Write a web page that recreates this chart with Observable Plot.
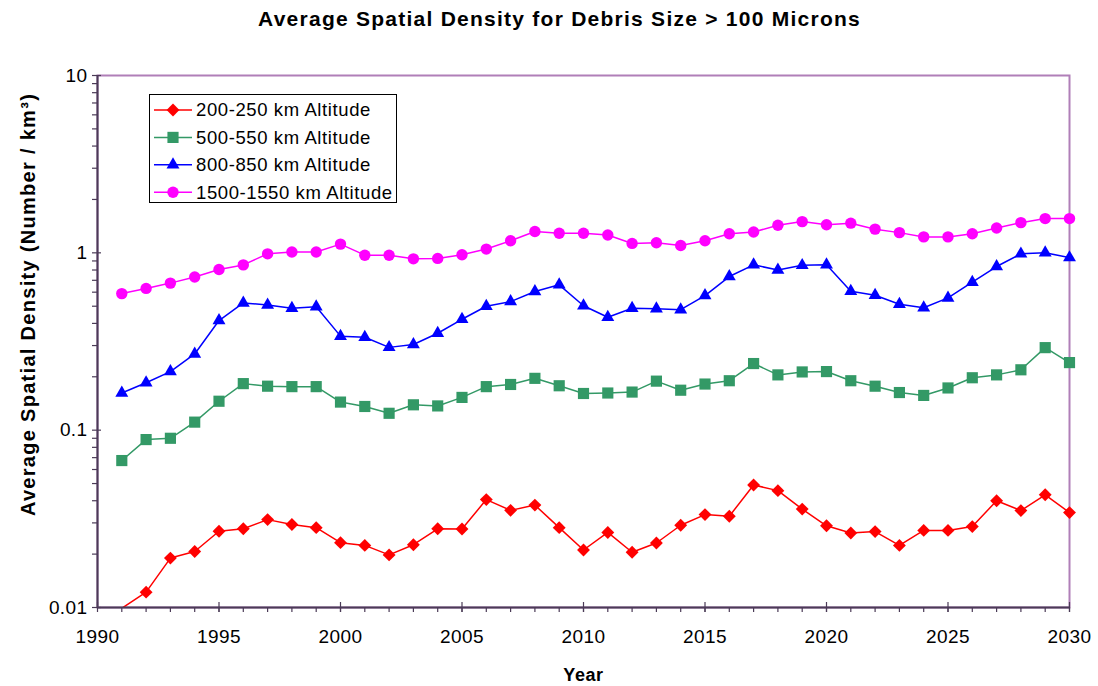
<!DOCTYPE html>
<html>
<head>
<meta charset="utf-8">
<script src="https://cdn.jsdelivr.net/npm/d3@7"></script>
<script src="https://cdn.jsdelivr.net/npm/@observablehq/plot@0.6"></script>
<style>
  body { margin: 0; background: #fff; }
  #wrap { position: relative; width: 1098px; height: 686px; font-family: "Liberation Sans", Arial, sans-serif; }
  #legend { position: absolute; left: 0; top: 0; pointer-events: none; }
</style>
</head>
<body>
<div id="wrap"></div>
<script>
// ---------- data ----------
const chartTitle = "Average Spatial Density for Debris Size > 100 Microns";
const xTitle = "Year";
const yTitle = "Average Spatial Density (Number / km³)";

const years = [1991, 1992, 1993, 1994, 1995, 1996, 1997, 1998, 1999, 2000,
               2001, 2002, 2003, 2004, 2005, 2006, 2007, 2008, 2009, 2010,
               2011, 2012, 2013, 2014, 2015, 2016, 2017, 2018, 2019, 2020,
               2021, 2022, 2023, 2024, 2025, 2026, 2027, 2028, 2029, 2030];

const seriesNames = ["200-250 km Altitude", "500-550 km Altitude", "800-850 km Altitude", "1500-1550 km Altitude"];

const alt200 = [0.0099, 0.0122, 0.0190, 0.0207, 0.0269, 0.0278, 0.0313, 0.0294, 0.0282, 0.0232,
                0.0224, 0.0198, 0.0226, 0.0278, 0.0277, 0.0406, 0.0353, 0.0378, 0.0282, 0.0211,
                0.0265, 0.0205, 0.0231, 0.0291, 0.0334, 0.0327, 0.0491, 0.0456, 0.0359, 0.0289,
                0.0263, 0.0268, 0.0224, 0.0272, 0.0272, 0.0286, 0.0400, 0.0352, 0.0432, 0.0343];

const alt500 = [0.0674, 0.0885, 0.0900, 0.111, 0.1456, 0.183, 0.177, 0.176, 0.176, 0.144,
                0.136, 0.1245, 0.139, 0.137, 0.153, 0.176, 0.181, 0.196, 0.178, 0.161,
                0.162, 0.164, 0.189, 0.168, 0.182, 0.190, 0.2375, 0.205, 0.213, 0.214,
                0.190, 0.177, 0.163, 0.157, 0.173, 0.1975, 0.205, 0.219, 0.292, 0.2405];

const alt800 = [0.162, 0.185, 0.214, 0.269, 0.415, 0.522, 0.508, 0.487, 0.497, 0.339,
                0.334, 0.293, 0.304, 0.352, 0.422, 0.500, 0.531, 0.605, 0.660, 0.503,
                0.433, 0.487, 0.484, 0.478, 0.574, 0.735, 0.856, 0.800, 0.850, 0.856,
                0.607, 0.577, 0.513, 0.490, 0.557, 0.683, 0.837, 0.987, 1.000, 0.940];

const alt1500 = [0.589, 0.630, 0.675, 0.730, 0.805, 0.855, 0.987, 1.010, 1.010, 1.120,
                 0.970, 0.970, 0.925, 0.930, 0.975, 1.050, 1.170, 1.320, 1.290, 1.290,
                 1.260, 1.130, 1.140, 1.100, 1.170, 1.280, 1.310, 1.430, 1.500, 1.440,
                 1.470, 1.360, 1.300, 1.230, 1.230, 1.280, 1.380, 1.480, 1.560, 1.560];

const seriesValues = [alt200, alt500, alt800, alt1500];

const xMajorTicks = [1990, 1995, 2000, 2005, 2010, 2015, 2020, 2025, 2030];
const xMinorTicks = years;
const yMajorTicks = [0.01, 0.1, 1, 10];
const yMajorLabels = ["0.01", "0.1", "1", "10"];
const yMinorTicks = [0.02, 0.03, 0.04, 0.05, 0.06, 0.07, 0.08, 0.09,
                     0.2, 0.3, 0.4, 0.5, 0.6, 0.7, 0.8, 0.9,
                     2, 3, 4, 5, 6, 7, 8, 9];

// ---------- styles ----------
const FONT = '"Liberation Sans", Arial, sans-serif';
const seriesColors = ["#ff0000", "#339966", "#0000ff", "#ff00ff"];
const seriesSymbols = ["diamond2", "square", "triangle", "circle"];
const seriesR = [5.8, 6.3, 4.8, 5.7];
const axisDark = "#4b3b57";
const frameLight = "#b07fb8";

// ---------- build table ----------
const rows = seriesNames.flatMap((name, i) =>
  years.map((yr, j) => ({year: yr, value: seriesValues[i][j], series: name})));

const dotMarks = seriesNames.map((name, i) =>
  Plot.dot(rows.filter(d => d.series === name && d.value >= 0.01), {
    x: "year", y: "value",
    fill: seriesColors[i], stroke: "none",
    symbol: seriesSymbols[i], r: seriesR[i]
  }));

const chart = Plot.plot({
  width: 1098,
  height: 686,
  marginLeft: 97,
  marginRight: 29,
  marginTop: 75,
  marginBottom: 79,
  style: {fontFamily: FONT, color: "#000", background: "#fff", overflow: "visible"},
  x: {domain: [1990, 2030], nice: false},
  y: {type: "log", domain: [0.01, 10]},
  color: {domain: seriesNames, range: seriesColors},
  marks: [
    Plot.frame({stroke: frameLight, strokeWidth: 2}),
    Plot.line(rows, {x: "year", y: "value", z: "series", stroke: "series", strokeWidth: 1.5, clip: true}),
    ...dotMarks,
    // y ticks
    Plot.axisY({ticks: yMajorTicks, tickSize: 9, dx: 4, tickFormat: () => "", label: null, stroke: axisDark, strokeWidth: 1.2}),
    Plot.axisY({ticks: yMinorTicks, tickSize: 5, tickFormat: () => "", label: null, stroke: axisDark, strokeWidth: 1.2}),
    Plot.axisY({ticks: yMajorTicks, tickSize: 0, tickPadding: 10, label: null,
      tickFormat: d => yMajorLabels[yMajorTicks.indexOf(d)], fontSize: 19, fill: "#000"}),
    // x ticks
    Plot.axisX({ticks: xMajorTicks, tickSize: 10, dy: -5, tickFormat: () => "", label: null, stroke: axisDark, strokeWidth: 1.2}),
    Plot.axisX({ticks: xMinorTicks, tickSize: 5, tickFormat: () => "", label: null, stroke: axisDark, strokeWidth: 1.2}),
    Plot.axisX({ticks: xMajorTicks, tickSize: 0, tickPadding: 22, label: null,
      tickFormat: d => String(d), fontSize: 19, fill: "#000"}),
    // axis lines
    Plot.ruleX([1990], {stroke: axisDark, strokeWidth: 2}),
    Plot.ruleY([0.01], {stroke: axisDark, strokeWidth: 2}),
    // titles
    Plot.text([chartTitle], {text: d => d, frameAnchor: "top", lineAnchor: "bottom", textAnchor: "middle",
      dx: -24, dy: -50, fontSize: 21, fontWeight: "bold", fill: "#000"}),
    Plot.text([xTitle], {text: d => d, frameAnchor: "bottom", lineAnchor: "bottom", textAnchor: "middle",
      dy: 73, fontSize: 18, fontWeight: "bold", fill: "#000"}),
    Plot.text([yTitle], {text: d => d, frameAnchor: "left", lineAnchor: "middle", textAnchor: "middle",
      rotate: -90, dx: -69, dy: -37, fontSize: 20, fontWeight: "bold", fill: "#000"})
  ]
});

const wrap = document.getElementById("wrap");
wrap.appendChild(chart);

// letter spacing to mimic the wide source rendering
const spacing = new Map([[chartTitle, 1.25], [xTitle, 0.6], [yTitle, 1.3]]);
d3.select(chart).selectAll("text").each(function() {
  const t = this.textContent;
  if (spacing.has(t)) this.setAttribute("letter-spacing", spacing.get(t));
  else this.setAttribute("letter-spacing", 0.4);
});

// ---------- legend ----------
const lg = d3.select(wrap).append("svg")
  .attr("id", "legend").attr("width", 1098).attr("height", 686);
lg.append("rect").attr("x", 149.5).attr("y", 94.5).attr("width", 247).attr("height", 108)
  .attr("fill", "#fff").attr("stroke", "#000").attr("stroke-width", 1);
const d3Sym = {diamond2: d3.symbolDiamond2, square: d3.symbolSquare, triangle: d3.symbolTriangle, circle: d3.symbolCircle};
seriesNames.forEach((name, i) => {
  const cy = 110 + i * 27.4;
  lg.append("line").attr("x1", 154).attr("x2", 192).attr("y1", cy).attr("y2", cy)
    .attr("stroke", seriesColors[i]).attr("stroke-width", 1.5);
  lg.append("path").attr("transform", `translate(173,${cy})`)
    .attr("d", d3.symbol(d3Sym[seriesSymbols[i]], Math.PI * seriesR[i] * seriesR[i])())
    .attr("fill", seriesColors[i]);
  lg.append("text").attr("x", 196).attr("y", cy).attr("dy", "0.35em")
    .attr("font-family", FONT).attr("font-size", 18.5).attr("letter-spacing", 0.6)
    .attr("fill", "#000").text(name);
});
</script>
</body>
</html>
